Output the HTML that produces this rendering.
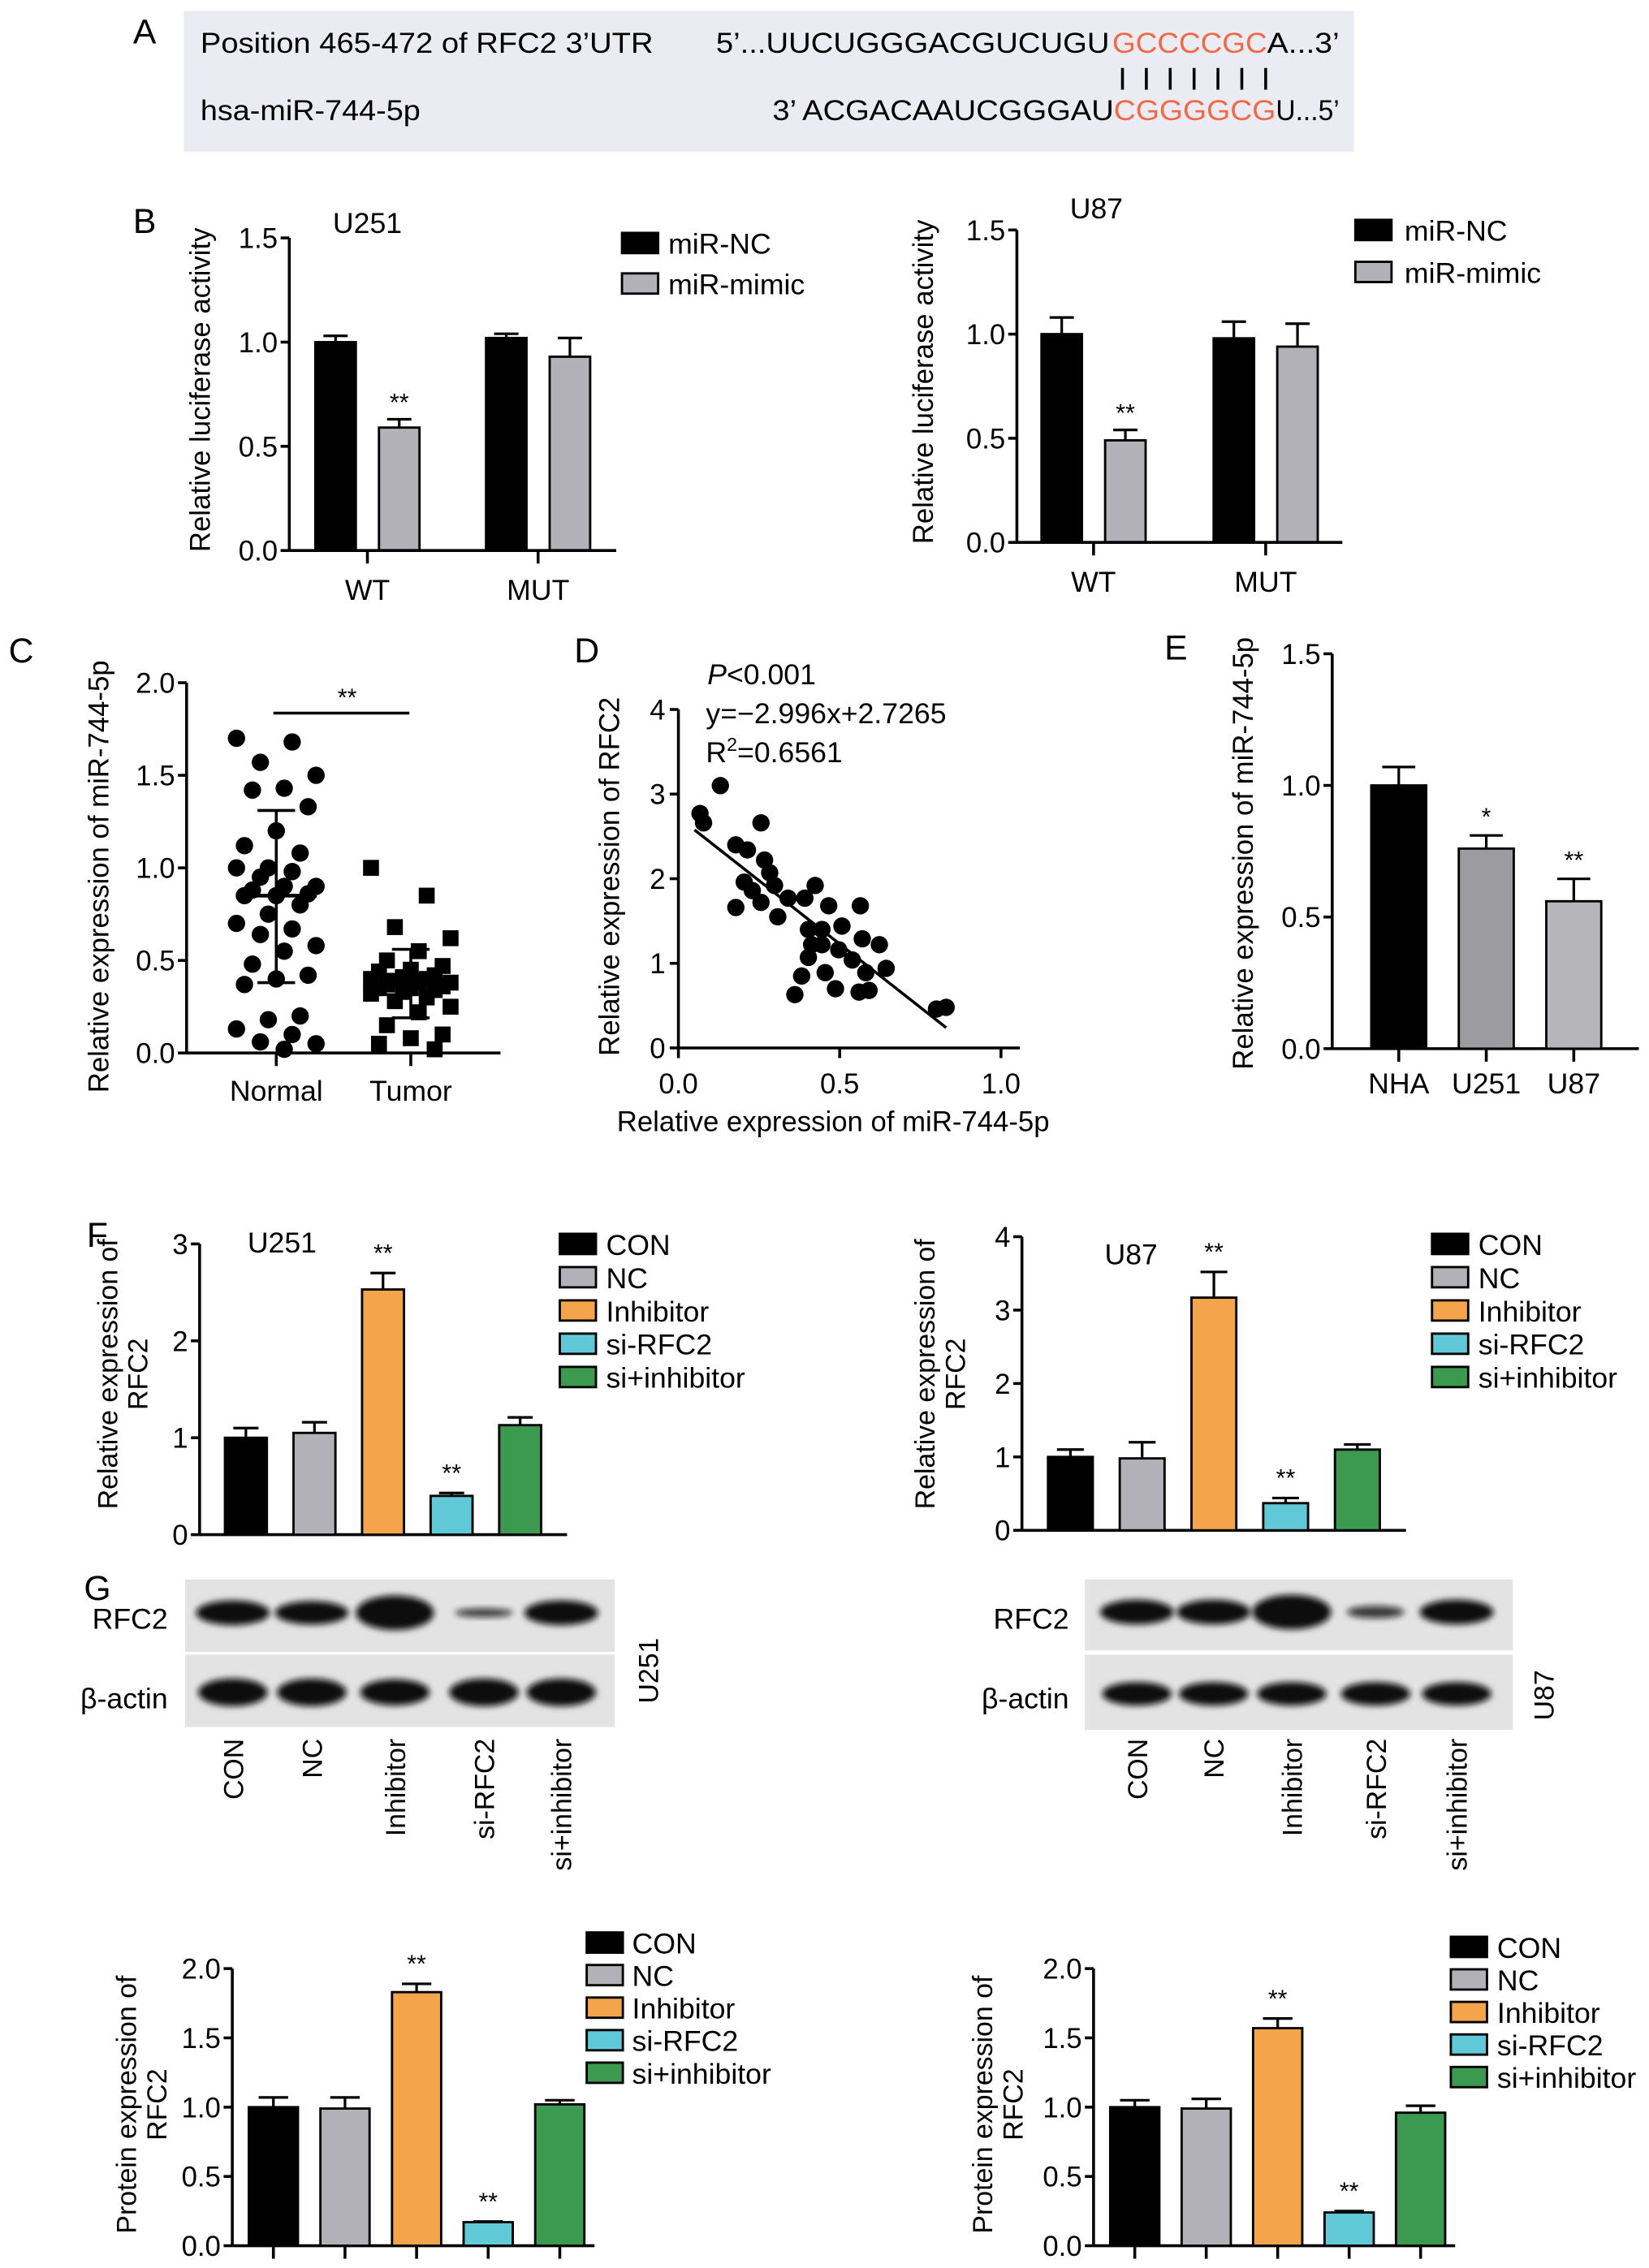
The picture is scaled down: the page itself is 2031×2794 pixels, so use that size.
<!DOCTYPE html>
<html><head><meta charset="utf-8"><style>
html,body{margin:0;padding:0;background:#fff;}
svg{display:block;font-family:"Liberation Sans",Arial,sans-serif;}
</style></head><body>
<svg id="fig" xmlns="http://www.w3.org/2000/svg" width="2031" height="2794" viewBox="0 0 1140 1568" preserveAspectRatio="none">
<defs><filter id="blur" x="-20%" y="-50%" width="140%" height="200%"><feGaussianBlur stdDeviation="2.2"/></filter></defs>
<rect width="1140" height="1568" fill="#fff"/>
<!-- Panel A -->
<g>
<rect x="127" y="7.5" width="809" height="97.5" fill="#ebebf3"/>
<text x="92" y="30" font-size="24">A</text>
<text x="138.6" y="36.5" font-size="20" textLength="313" lengthAdjust="spacingAndGlyphs">Position 465-472 of RFC2 3’UTR</text>
<text x="495" y="36.5" font-size="20" textLength="272" lengthAdjust="spacingAndGlyphs">5’...UUCUGGGACGUCUGU</text>
<text x="769" y="36.5" font-size="20" fill="#ef6a45" textLength="107" lengthAdjust="spacingAndGlyphs">GCCCCGC</text>
<text x="876" y="36.5" font-size="20" textLength="50" lengthAdjust="spacingAndGlyphs">A...3’</text>
<g stroke="#000" stroke-width="2">
<line x1="776" y1="47" x2="776" y2="62"/><line x1="792.5" y1="47" x2="792.5" y2="62"/><line x1="809" y1="47" x2="809" y2="62"/><line x1="825.5" y1="47" x2="825.5" y2="62"/><line x1="842" y1="47" x2="842" y2="62"/><line x1="858.5" y1="47" x2="858.5" y2="62"/><line x1="875" y1="47" x2="875" y2="62"/>
</g>
<text x="138.6" y="83" font-size="20" textLength="152" lengthAdjust="spacingAndGlyphs">hsa-miR-744-5p</text>
<text x="534" y="83" font-size="20" textLength="236" lengthAdjust="spacingAndGlyphs">3’ ACGACAAUCGGGAU</text>
<text x="770" y="83" font-size="20" fill="#ef6a45" textLength="112" lengthAdjust="spacingAndGlyphs">CGGGGCG</text>
<text x="882" y="83" font-size="20" textLength="44" lengthAdjust="spacingAndGlyphs">U...5’</text>
</g>
<text x="92" y="161" font-size="24">B</text>
<text x="6" y="458" font-size="24">C</text>
<text x="397" y="458" font-size="24">D</text>
<text x="805" y="456" font-size="24">E</text>
<text x="60" y="862" font-size="24">F</text>
<text x="58" y="1106" font-size="24">G</text>
</svg>
<script>
// ---------- DATA ----------
const bGroups = ['WT','MUT'];
const bTicks = [0, 0.5, 1.0, 1.5];
const bTickLabels = ['0.0','0.5','1.0','1.5'];
const bSeries = ['miR-NC','miR-mimic'];
const bU251NC = [1.0, 1.02];
const bU251NCErr = [1.03, 1.04];
const bU251Mimic = [0.59, 0.93];
const bU251MimicErr = [0.63, 1.02];
const bU87NC = [1.0, 0.98];
const bU87NCErr = [1.08, 1.06];
const bU87Mimic = [0.49, 0.94];
const bU87MimicErr = [0.54, 1.05];

const cTicks = [0, 0.5, 1.0, 1.5, 2.0];
const cTickLabels = ['0.0','0.5','1.0','1.5','2.0'];
const cGroups = ['Normal','Tumor'];
const cNormal = [1.70,1.68,1.57,1.50,1.43,1.42,1.33,1.20,1.12,1.08,1.00,1.00,0.98,0.95,0.90,0.90,0.88,0.86,0.85,0.85,0.80,0.75,0.70,0.67,0.64,0.58,0.55,0.48,0.42,0.40,0.37,0.20,0.18,0.13,0.10,0.06,0.05,0.02];
const cTumor = [1.0,0.85,0.68,0.62,0.55,0.50,0.47,0.45,0.44,0.42,0.41,0.40,0.40,0.39,0.38,0.38,0.37,0.36,0.35,0.35,0.34,0.33,0.32,0.30,0.28,0.25,0.22,0.15,0.10,0.08,0.05,0.02];
const cMean = [0.85, 0.38];
const cSDHigh = [1.31, 0.56];
const cSDLow = [0.38, 0.19];

const dXTicks = [0, 0.5, 1.0];
const dXTickLabels = ['0.0','0.5','1.0'];
const dYTicks = [0,1,2,3,4];
const dYTickLabels = ['0','1','2','3','4'];
const dX = [0.067,0.078,0.13,0.178,0.214,0.256,0.178,0.204,0.229,0.256,0.267,0.283,0.298,0.308,0.340,0.361,0.382,0.392,0.403,0.413,0.424,0.403,0.455,0.445,0.466,0.487,0.497,0.507,0.539,0.560,0.564,0.570,0.581,0.591,0.623,0.644,0.80,0.83,0.445];
const dY = [2.77,2.66,3.10,2.40,2.34,2.66,1.66,1.96,1.86,1.72,2.22,2.07,1.92,1.55,1.77,0.63,0.85,1.77,1.40,1.22,1.92,1.07,0.89,1.40,1.68,0.70,1.16,1.44,1.04,0.66,1.68,1.29,0.89,0.68,1.22,0.94,0.46,0.48,1.22];
const dSlope = -2.996;
const dIntercept = 2.7265;
const dFitRange = [0.05, 0.83];

const eCats = ['NHA','U251','U87'];
const eValues = [1.0, 0.76, 0.56];
const eErr = [1.07, 0.81, 0.645];
const eStars = ['', '*', '**'];

const fCats = ['CON','NC','Inhibitor','si-RFC2','si+inhibitor'];
const fStars = ['', '', '**', '**', ''];
const fU251Ticks = [0,1,2,3];
const fU251Values = [1.0, 1.05, 2.53, 0.40, 1.13];
const fU251Err = [1.10, 1.16, 2.70, 0.43, 1.21];
const fU87Ticks = [0,1,2,3,4];
const fU87Values = [1.0, 0.98, 3.17, 0.37, 1.10];
const fU87Err = [1.10, 1.20, 3.52, 0.44, 1.17];

const gTicks = [0, 0.5, 1.0, 1.5, 2.0];
const gTickLabels = ['0.0','0.5','1.0','1.5','2.0'];
const gU251Values = [1.0, 0.99, 1.83, 0.17, 1.02];
const gU251Err = [1.07, 1.07, 1.89, 0.175, 1.05];
const gU87Values = [1.0, 0.99, 1.57, 0.24, 0.96];
const gU87Err = [1.05, 1.06, 1.64, 0.25, 1.01];
const blotU251RFC2 = [1.0, 0.95, 1.6, 0.35, 1.0];
const blotU251Actin = [1.0, 1.0, 0.95, 1.0, 1.0];
const blotU87RFC2 = [1.0, 1.0, 1.7, 0.5, 1.0];
const blotU87Actin = [0.85, 0.85, 0.85, 0.85, 0.85];

// ---------- HELPERS ----------
const SVGNS = 'http://www.w3.org/2000/svg';
const svg = document.getElementById('fig');
const fCols = ['#000000','#b1b1b7','#f4a54b','#60c8d6','#3b9a4f'];
const TICK = 19.5, TITLE = 19.5, LAB = 20;
function mk(tag, attrs, parent) {
  const e = document.createElementNS(SVGNS, tag);
  for (const k in attrs) e.setAttribute(k, attrs[k]);
  (parent || svg).appendChild(e);
  return e;
}
function nm(e, n) {
  
  
  return e;
}
function txt(x, y, s, size, anchor, parent, name, extra) {
  const e = mk('text', Object.assign({x: x, y: y, 'font-size': size, 'text-anchor': anchor || 'start'}, extra || {}), parent);
  e.textContent = s;
  nm(e, name);
  return e;
}
function rotText(cx, cy, s, size, anchor, parent, name) {
  const e = mk('text', {transform: 'translate(' + cx + ',' + cy + ') rotate(-90)', 'font-size': size, 'text-anchor': anchor}, parent);
  e.textContent = s;
  nm(e, name);
  return e;
}
function yScale(y0, yTop, max) { return v => y0 - v * (y0 - yTop) / max; }

function yAxis(g, ax, y0, yTop, ticks, labels, ys, name) {
  nm(mk('line', {x1: ax, y1: ys(ticks[ticks.length-1]), x2: ax, y2: y0, stroke: '#000', 'stroke-width': 2}, g), name + '-y-axis');
  ticks.forEach((t, i) => {
    nm(mk('line', {x1: ax - 6, y1: ys(t), x2: ax, y2: ys(t), stroke: '#000', 'stroke-width': 2}, g), name + '-y-tick');
    txt(ax - 8, ys(t) + 7, labels[i], TICK, 'end', g, name + '-y-tick-label');
  });
}
function xAxis(g, ax, end, y0, name) {
  nm(mk('line', {x1: ax, y1: y0, x2: end, y2: y0, stroke: '#000', 'stroke-width': 2}, g), name + '-x-axis');
}
function bar(g, cx, w, v, err, ys, color, name) {
  const top = ys(v), y0 = ys(0);
  if (err != null && err > v) {
    nm(mk('line', {x1: cx, y1: ys(err), x2: cx, y2: top, stroke: '#000', 'stroke-width': 1.8}, g), name + '-error');
    nm(mk('line', {x1: cx - w*0.3, y1: ys(err), x2: cx + w*0.3, y2: ys(err), stroke: '#000', 'stroke-width': 1.8}, g), name + '-error-cap');
  }
  nm(mk('rect', {x: cx - w/2, y: top, width: w, height: y0 - top, fill: color, stroke: '#000', 'stroke-width': 1.6}, g), name);
}
function legend(g, x, y, step, labels, colors, textX, name) {
  labels.forEach((l, i) => {
    nm(mk('rect', {x: x, y: y + i*step, width: 25, height: 14, fill: colors[i], stroke: '#000', 'stroke-width': 1.6}, g), name + '-swatch');
    txt(textX, y + i*step + 14.5, l, LAB, 'start', g, name + '-label');
  });
}

// ---------- PANEL B ----------
function panelB(name, ax, end, y0, yTop, ticks, centers, nc, ncErr, mim, mimErr, title, titleX, titleY, lx, ly, ly2, ltx, labX) {
  const g = nm(mk('g', {}), name);
  const ys = yScale(y0, yTop, 1.5);
  yAxis(g, ax, y0, yTop, ticks, bTickLabels, ys, name);
  bGroups.forEach((grp, i) => {
    const c = centers[i];
    bar(g, c - 22, 28, nc[i], ncErr[i], ys, '#000', name + '-bar-nc-' + grp.toLowerCase());
    bar(g, c + 22, 28, mim[i], mimErr[i], ys, '#b1b1b7', name + '-bar-mimic-' + grp.toLowerCase());
    nm(mk('line', {x1: c, y1: y0, x2: c, y2: y0 + 9, stroke: '#000', 'stroke-width': 2}, g), name + '-x-tick');
    txt(c, y0 + 34, grp, LAB, 'middle', g, name + '-x-label');
    if (mim[i] < 0.7) txt(c + 22, ys(mimErr[i]) - 6, '**', 17, 'middle', g, name + '-significance');
  });
  xAxis(g, ax, end, y0, name);
  txt(titleX, titleY, title, LAB, 'middle', g, name + '-title');
  legend(g, lx, ly, ly2 - ly, bSeries, ['#000','#b1b1b7'], ltx, name + '-legend');
  rotText(labX, (y0 + yTop)/2 - 3, 'Relative luciferase activity', TITLE, 'middle', g, name + '-y-title');
}
panelB('chart-b-u251', 200, 426, 380.6, 164.5, bTicks, [254, 372], bU251NC, bU251NCErr, bU251Mimic, bU251MimicErr, 'U251', 254, 161, 430, 161, 189, 462, 145);
panelB('chart-b-u87', 703, 928, 375, 159, bTicks, [756, 875], bU87NC, bU87NCErr, bU87Mimic, bU87MimicErr, 'U87', 758, 151, 937, 152, 181, 971, 645);

// ---------- PANEL C ----------
(function(){
  const g = nm(mk('g', {}), 'chart-c');
  const y0 = 728, ys = yScale(728, 472, 2.0);
  yAxis(g, 129, y0, 472, cTicks, cTickLabels, ys, 'chart-c');
  xAxis(g, 129, 346, y0, 'chart-c');
  const cx = [191, 284];
  [cNormal, cTumor].forEach((arr, gi) => {
    arr.forEach((v, i) => {
      const off = (((i * 7) % 11) - 5) * 5.5;
      if (gi === 0) {
        const p = mk('circle', {cx: cx[gi] + off, cy: ys(v), r: 6, fill: '#000'}, g);
        nm(p, 'normal-point');
      } else {
        const p = mk('rect', {x: cx[gi] + off - 5.5, y: ys(v) - 5.5, width: 11, height: 11, fill: '#000'}, g);
        nm(p, 'tumor-point');
      }
    });
    nm(mk('line', {x1: cx[gi], y1: ys(cSDHigh[gi]), x2: cx[gi], y2: ys(cSDLow[gi]), stroke: '#000', 'stroke-width': 2}, g), 'sd-line');
    nm(mk('line', {x1: cx[gi] - 13, y1: ys(cSDHigh[gi]), x2: cx[gi] + 13, y2: ys(cSDHigh[gi]), stroke: '#000', 'stroke-width': 2}, g), 'sd-cap-high');
    nm(mk('line', {x1: cx[gi] - 13, y1: ys(cSDLow[gi]), x2: cx[gi] + 13, y2: ys(cSDLow[gi]), stroke: '#000', 'stroke-width': 2}, g), 'sd-cap-low');
    nm(mk('line', {x1: cx[gi] - 28, y1: ys(cMean[gi]), x2: cx[gi] + 28, y2: ys(cMean[gi]), stroke: '#000', 'stroke-width': 2.5}, g), 'mean-line');
    nm(mk('line', {x1: cx[gi], y1: y0, x2: cx[gi], y2: y0 + 9, stroke: '#000', 'stroke-width': 2}, g), 'chart-c-x-tick');
    txt(cx[gi], 761, cGroups[gi], LAB, 'middle', g, 'chart-c-x-label');
  });
  nm(mk('line', {x1: 189, y1: 493, x2: 283, y2: 493, stroke: '#000', 'stroke-width': 2}, g), 'significance-bracket');
  txt(240, 488, '**', 17, 'middle', g, 'chart-c-significance');
  rotText(75, 606, 'Relative expression of miR-744-5p', TITLE, 'middle', g, 'chart-c-y-title');
})();

// ---------- PANEL D ----------
(function(){
  const g = nm(mk('g', {}), 'chart-d');
  const xs = v => 469 + v * 223;
  const ys = v => 724.5 - v * 58.5;
  nm(mk('line', {x1: 469, y1: ys(4), x2: 469, y2: ys(0), stroke: '#000', 'stroke-width': 2}, g), 'chart-d-y-axis');
  dYTicks.forEach((t, i) => {
    nm(mk('line', {x1: 463, y1: ys(t), x2: 469, y2: ys(t), stroke: '#000', 'stroke-width': 2}, g), 'chart-d-y-tick');
    txt(460, ys(t) + 7, dYTickLabels[i], TICK, 'end', g, 'chart-d-y-tick-label');
  });
  nm(mk('line', {x1: 469, y1: ys(0), x2: 705, y2: ys(0), stroke: '#000', 'stroke-width': 2}, g), 'chart-d-x-axis');
  dXTicks.forEach((t, i) => {
    nm(mk('line', {x1: xs(t), y1: ys(0), x2: xs(t), y2: ys(0) + 7, stroke: '#000', 'stroke-width': 2}, g), 'chart-d-x-tick');
    txt(xs(t), 756, dXTickLabels[i], TICK, 'middle', g, 'chart-d-x-tick-label');
  });
  dX.forEach((x, i) => {
    const p = mk('circle', {cx: xs(x), cy: ys(dY[i]), r: 6, fill: '#000'}, g);
    nm(p, 'scatter-point');
  });
  const fl = mk('line', {x1: xs(dFitRange[0]), y1: ys(dSlope*dFitRange[0] + dIntercept), x2: xs(dFitRange[1]), y2: ys(dSlope*dFitRange[1] + dIntercept), stroke: '#000', 'stroke-width': 2}, g);
  nm(fl, 'regression-line');
  const p = txt(489, 473, '', LAB, 'start', g, 'p-value');
  const ti = mk('tspan', {'font-style': 'italic'}, p); ti.textContent = 'P'; nm(ti, 'p-symbol');
  const t2 = mk('tspan', {}, p); t2.textContent = '<0.001'; nm(t2, 'p-number');
  txt(488, 500, 'y=−2.996x+2.7265', LAB, 'start', g, 'regression-equation');
  const r = txt(488, 527, 'R', LAB, 'start', g, 'r-squared');
  const sup = mk('tspan', {'font-size': 13, dy: -8}, r); sup.textContent = '2'; nm(sup, 'r-squared-sup');
  const rest = mk('tspan', {dy: 8}, r); rest.textContent = '=0.6561'; nm(rest, 'r-squared-value');
  txt(576, 782, 'Relative expression of miR-744-5p', TITLE, 'middle', g, 'chart-d-x-title');
  rotText(428, 606, 'Relative expression of RFC2', TITLE, 'middle', g, 'chart-d-y-title');
})();

// ---------- PANEL E ----------
(function(){
  const g = nm(mk('g', {}), 'chart-e');
  const y0 = 725, ys = yScale(725, 452, 1.5);
  yAxis(g, 921, y0, 452, bTicks, bTickLabels, ys, 'chart-e');
  xAxis(g, 921, 1133, y0, 'chart-e');
  const cols = ['#000', '#9b9ba0', '#b5b5ba'];
  eCats.forEach((c, i) => {
    const cx = 967 + i * 60.5;
    bar(g, cx, 38, eValues[i], eErr[i], ys, cols[i], 'chart-e-bar-' + c.toLowerCase());
    nm(mk('line', {x1: cx, y1: y0, x2: cx, y2: y0 + 9, stroke: '#000', 'stroke-width': 2}, g), 'chart-e-x-tick');
    txt(cx, 756, c, LAB, 'middle', g, 'chart-e-x-label');
    if (eStars[i]) txt(cx, ys(eErr[i]) - 7, eStars[i], 17, 'middle', g, 'chart-e-significance');
  });
  rotText(866, 590, 'Relative expression of miR-744-5p', TITLE, 'middle', g, 'chart-e-y-title');
})();

// ---------- PANEL F / G bar charts ----------
function catChart(name, ax, end, y0, yTop, max, ticks, labels, c0, step, w, vals, errs, xticks, lx, ly, lstep, ltx, lab1, lab2, labX1, labX2, labY, title, titleX, titleY) {
  const g = nm(mk('g', {}), name);
  const ys = yScale(y0, yTop, max);
  yAxis(g, ax, y0, yTop, ticks, labels, ys, name);
  xAxis(g, ax, end, y0, name);
  fCats.forEach((c, i) => {
    const cx = c0 + i * step;
    bar(g, cx, w, vals[i], errs[i], ys, fCols[i], name + '-bar-' + c.toLowerCase());
    if (xticks) nm(mk('line', {x1: cx, y1: y0, x2: cx, y2: y0 + 9, stroke: '#000', 'stroke-width': 2}, g), name + '-x-tick');
    if (fStars[i]) txt(cx, ys(Math.max(vals[i], errs[i])) - 8, fStars[i], 17, 'middle', g, name + '-significance');
  });
  legend(g, lx, ly, lstep, fCats, fCols, ltx, name + '-legend');
  rotText(labX1, labY, lab1, 19, 'middle', g, name + '-y-title');
  rotText(labX2, labY, lab2, 19, 'middle', g, name + '-y-title-line2');
  if (title) txt(titleX, titleY, title, LAB, 'middle', g, name + '-title');
}
catChart('chart-f-u251', 138, 392, 1061, 860, 3, fU251Ticks, ['0','1','2','3'], 170, 47.4, 29, fU251Values, fU251Err, false, 387, 853, 23, 419, 'Relative expression of', 'RFC2', 81, 102, 950, 'U251', 195, 866);
catChart('chart-f-u87', 706.5, 972, 1058, 855, 4, fU87Ticks, ['0','1','2','3','4'], 740, 49.6, 31, fU87Values, fU87Err, false, 990, 853, 23, 1022, 'Relative expression of', 'RFC2', 646, 667, 950, 'U87', 782, 874);
catChart('chart-g-u251', 160.6, 411, 1552.6, 1361, 2, gTicks, gTickLabels, 189, 49.5, 34, gU251Values, gU251Err, true, 405.6, 1336, 22.5, 437, 'Protein expression of', 'RFC2', 94, 115, 1455, '', 0, 0);
catChart('chart-g-u87', 756, 1006, 1552.6, 1361, 2, gTicks, gTickLabels, 784.5, 49.4, 34, gU87Values, gU87Err, true, 1003, 1339, 22.5, 1035, 'Protein expression of', 'RFC2', 686, 707, 1455, '', 0, 0);

// ---------- WESTERN BLOTS ----------
function blot(name, x0, x1, up0, up1, lo0, lo1, lanes, rfcRel, actRel, bandW, cell, cellX, cellY, labRight) {
  const g = nm(mk('g', {}), name);
  nm(mk('rect', {x: x0, y: up0, width: x1 - x0, height: up1 - up0, fill: '#e3e3e3'}, g), name + '-rfc2-membrane');
  nm(mk('rect', {x: x0, y: lo0, width: x1 - x0, height: lo1 - lo0, fill: '#e3e3e3'}, g), name + '-actin-membrane');
  const rc = (up0 + up1) / 2 - 2, lc = (lo0 + lo1) / 2 + 1;
  lanes.forEach((lx, i) => {
    const rh = 8.5 * Math.min(rfcRel[i], 1.4), rw = bandW * (rfcRel[i] < 0.6 ? 0.8 : Math.min(1.15, 0.92 + rfcRel[i]*0.1));
    const b = mk('ellipse', {cx: lx, cy: rc, rx: rw/2, ry: Math.max(rh, 3), fill: '#080808', filter: 'url(#blur)', opacity: rfcRel[i] < 0.6 ? 0.8 : 1}, g);
    nm(b, name + '-rfc2-band');
    const a = mk('ellipse', {cx: lx, cy: lc, rx: bandW * 0.48, ry: 9.5 * actRel[i], fill: '#080808', filter: 'url(#blur)'}, g);
    nm(a, name + '-actin-band');
    rotText(lx + 7, 1202, fCats[i], 19, 'end', g, name + '-lane-label');
  });
  txt(labRight, up0 + 34, 'RFC2', LAB, 'end', g, name + '-rfc2-label');
  txt(labRight, lo0 + 37, 'β-actin', LAB, 'end', g, name + '-actin-label');
  rotText(cellX, cellY, cell, 19, 'middle', g, name + '-cell-label');
}
blot('blot-u251', 128, 425, 1092, 1142, 1144, 1194, [161, 215.5, 273, 334.5, 388], blotU251RFC2, blotU251Actin, 50, 'U251', 455, 1155, 116);
blot('blot-u87', 750, 1046, 1092, 1141, 1144, 1196, [786, 839, 893, 951, 1007], blotU87RFC2, blotU87Actin, 50, 'U87', 1074, 1172, 739);
</script>
</body></html>
